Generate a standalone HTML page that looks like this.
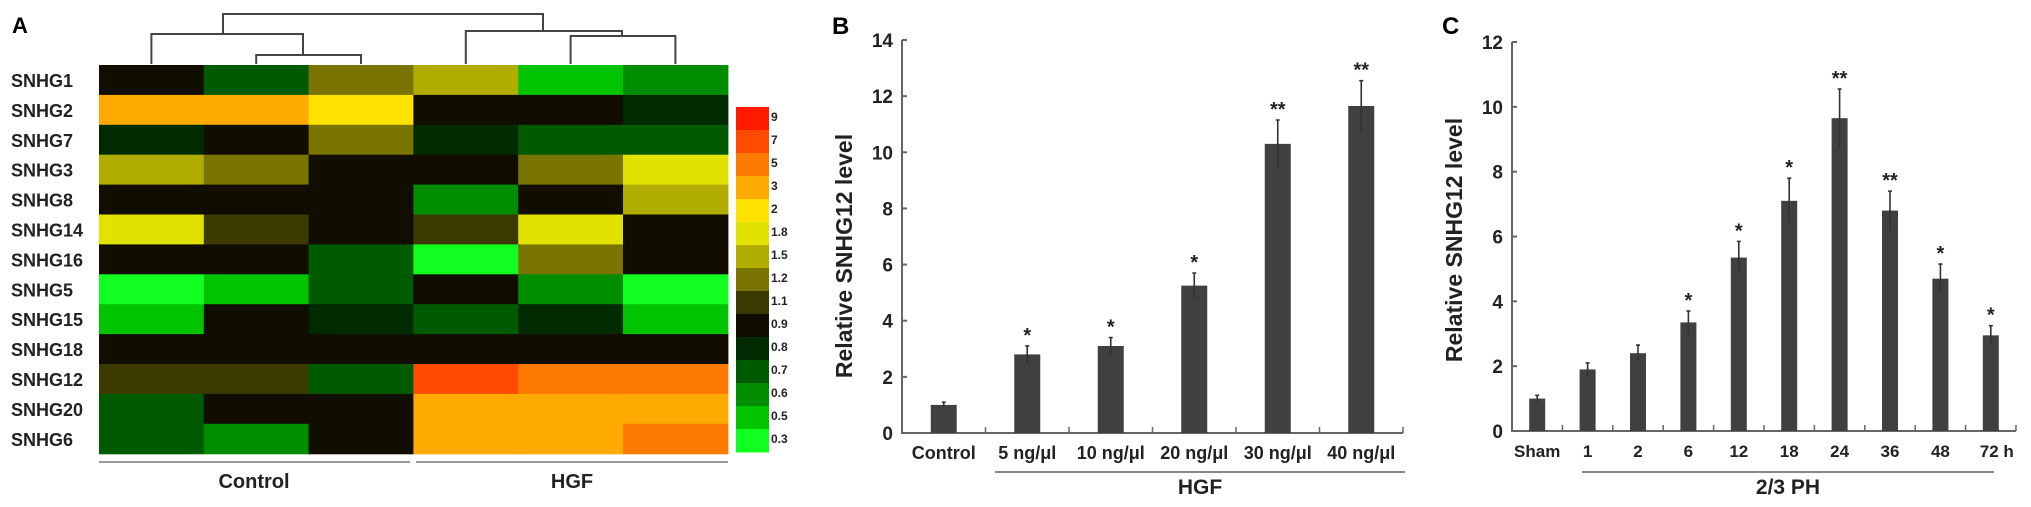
<!DOCTYPE html>
<html><head><meta charset="utf-8"><style>
html,body{margin:0;padding:0;background:#fff;}
svg{display:block;font-family:"Liberation Sans",Arial,sans-serif;font-weight:bold;}
</style></head><body>
<svg id="fig" width="2031" height="507" viewBox="0 0 2031 507" xmlns="http://www.w3.org/2000/svg">
<g id="panelA"></g>
<g id="panelB"></g>
<g id="panelC"></g>
</svg>
<script>
// ---------- Panel A data ----------
const geneNames = ["SNHG1","SNHG2","SNHG7","SNHG3","SNHG8","SNHG14","SNHG16","SNHG5","SNHG15","SNHG18","SNHG12","SNHG20","SNHG6"];
const sampleGroups = ["Control","HGF"];
const heatValues = [
  [0.9,0.7,1.2,1.5,0.5,0.6],
  [3,3,2,0.9,0.9,0.8],
  [0.8,0.9,1.2,0.8,0.7,0.7],
  [1.5,1.2,0.9,0.9,1.2,1.8],
  [0.9,0.9,0.9,0.6,0.9,1.5],
  [1.8,1.1,0.9,1.1,1.8,0.9],
  [0.9,0.9,0.7,0.3,1.2,0.9],
  [0.3,0.5,0.7,0.9,0.6,0.3],
  [0.5,0.9,0.8,0.7,0.8,0.5],
  [0.9,0.9,0.9,0.9,0.9,0.9],
  [1.1,1.1,0.7,7,5,5],
  [0.7,0.9,0.9,3,3,3],
  [0.7,0.6,0.9,3,3,5]
];
const legendLabels = ["9","7","5","3","2","1.8","1.5","1.2","1.1","0.9","0.8","0.7","0.6","0.5","0.3"];
const legendColors = ["#ff1a00","#ff4a00","#ff7a00","#ffaa00","#ffe200","#e2e200","#b0ac00","#7a7400","#3c3a00","#110d00","#002a00","#005a00","#008e00","#00c400","#10ff20"];

// ---------- Panel B data ----------
const bCategories = ["Control","5 ng/μl","10 ng/μl","20 ng/μl","30 ng/μl","40 ng/μl"];
const bValues = [1.0,2.8,3.1,5.25,10.3,11.65];
const bErrors = [0.1,0.3,0.3,0.45,0.85,0.9];
const bStars = ["","*","*","*","**","**"];
const bTicks = [0,2,4,6,8,10,12,14];

// ---------- Panel C data ----------
const cCategories = ["Sham","1","2","6","12","18","24","36","48","72 h"];
const cValues = [1.0,1.9,2.4,3.35,5.35,7.1,9.65,6.8,4.7,2.95];
const cErrors = [0.1,0.2,0.25,0.35,0.5,0.7,0.9,0.6,0.45,0.3];
const cStars = ["","","","*","*","*","**","**","*","*"];
const cTicks = [0,2,4,6,8,10,12];

const NS="http://www.w3.org/2000/svg";
function mk(parent,tag,attrs,text){const e=document.createElementNS(NS,tag);for(const k in attrs)e.setAttribute(k,attrs[k]);if(text!==undefined)e.textContent=text;parent.appendChild(e);return e;}

// ---------- Draw A ----------
(function(){
  const g=document.getElementById('panelA');
  const x0=99,y0=65,cw=104.8,rh=29.9;
  function colorFor(v){let best=0,bd=1e9;legendLabels.forEach((l,i)=>{const d=Math.abs(Math.log(parseFloat(l))-Math.log(v));if(d<bd){bd=d;best=i;}});return legendColors[best];}
  let t=mk(g,'text',{x:12,y:33,'font-size':22});t.textContent='A';
  
  geneNames.forEach((name,r)=>{
    const lab=mk(g,'text',{x:11,y:y0+r*rh+rh/2+7,'font-size':18,fill:'#222'},name);
    
    
    heatValues[r].forEach((v,c)=>{
      const cell=mk(g,'rect',{x:x0+c*cw,y:y0+r*rh,width:cw+0.6,height:rh+0.6,fill:colorFor(v)});
      
      
    });
  });
  const cx=i=>x0+cw*(i+0.5);
  const dp='M'+cx(0)+' 64V34H303V55 M'+cx(1)+' 64V55H'+cx(2)+'V64 M223 34V14H543V31 M'+cx(3)+' 64V31H622V36 M'+cx(4)+' 64V36H'+cx(5)+'V64';
  const den=mk(g,'path',{d:dp,fill:'none',stroke:'#444','stroke-width':2});
  
  
  [[99,410,254,'Control'],[416,728,572,'HGF']].forEach((a,i)=>{
    const ln=mk(g,'line',{x1:a[0],x2:a[1],y1:462,y2:462,stroke:'#999','stroke-width':2});
    
    
    const tx=mk(g,'text',{x:a[2],y:488,'font-size':20,'text-anchor':'middle',fill:'#222'},sampleGroups[i]);
    
    
  });
  const ly=107,lh=23;
  legendColors.forEach((col,i)=>{
    const sw=mk(g,'rect',{x:736,y:ly+i*lh,width:33,height:lh+0.5,fill:col});
    
    
    const lt=mk(g,'text',{x:771,y:ly+i*lh+14,'font-size':12,fill:'#222'},legendLabels[i]);
    
    
  });
})();

// ---------- Bar chart helper ----------
function barChart(g,o,cats,vals,errs,stars,ticks){
  const yS=v=>o.y0-(v/o.ymax)*(o.y0-o.ytop);
  const slot=(o.xend-o.xa)/cats.length;
  const xS=i=>o.xa+slot*(i+0.5);
  const pl=mk(g,'text',{x:o.lx,y:34,'font-size':24},o.letter);
  
  
  const ax=mk(g,'path',{d:'M'+o.xa+' '+yS(ticks[ticks.length-1])+'V'+o.y0+'H'+o.xend,fill:'none',stroke:'#666','stroke-width':2});
  
  
  ticks.forEach(t=>{
    const tk=mk(g,'line',{x1:o.xa,x2:o.xa+5,y1:yS(t),y2:yS(t),stroke:'#666','stroke-width':2});
    
    
    const tl=mk(g,'text',{x:o.xa-9,y:yS(t)+7,'font-size':19,'text-anchor':'end',fill:'#222'},String(t));
    
    
  });
  for(let i=1;i<=cats.length;i++){
    const mt=mk(g,'line',{x1:o.xa+slot*i,x2:o.xa+slot*i,y1:o.y0,y2:o.y0-6,stroke:'#666','stroke-width':1.5});
    
    
  }
  cats.forEach((c,i)=>{
    const x=xS(i),top=yS(vals[i]),eT=yS(vals[i]+errs[i]),eB=yS(vals[i]-errs[i]);
    const b=mk(g,'rect',{x:x-o.bw/2,y:top,width:o.bw,height:o.y0-top,fill:'#404040'});
    
    
    const e=mk(g,'path',{d:'M'+x+' '+eB+'V'+eT+'M'+(x-2)+' '+eT+'H'+(x+2),stroke:'#333','stroke-width':1.6,fill:'none'});
    
    
    if(stars[i]){
      const s=mk(g,'text',{x:x,y:eT-4,'font-size':20,'text-anchor':'middle',fill:'#222'},stars[i]);
      
      
    }
    const xl=mk(g,'text',{x:x+(o.labelShift&&i===cats.length-1?6:0),y:o.y0+26,'font-size':o.xfs,'text-anchor':'middle',fill:'#222'},c);
    
    
  });
  const yt=mk(g,'text',{x:0,y:0,'font-size':23,'text-anchor':'middle',fill:'#222',transform:'translate('+o.ytx+','+o.yty+') rotate(-90)'},'Relative SNHG12 level');
  
  
  const gl=mk(g,'line',{x1:o.gx1,x2:o.gx2,y1:472,y2:472,stroke:'#888','stroke-width':2});
  
  
  const gt=mk(g,'text',{x:(o.gx1+o.gx2)/2,y:494,'font-size':21,'text-anchor':'middle',fill:'#222'},o.group);
  
  
}
barChart(document.getElementById('panelB'),{letter:'B',lx:832,xa:902,xend:1403,y0:433,ytop:40,ymax:14,bw:26,xfs:18,ytx:852,yty:256,gx1:995,gx2:1405,group:'HGF'},bCategories,bValues,bErrors,bStars,bTicks);
barChart(document.getElementById('panelC'),{letter:'C',lx:1442,xa:1512,xend:2016,y0:431,ytop:42,ymax:12,bw:16,xfs:17,ytx:1462,yty:240,gx1:1582,gx2:1994,group:'2/3 PH',labelShift:true},cCategories,cValues,cErrors,cStars,cTicks);
</script>
</body></html>
